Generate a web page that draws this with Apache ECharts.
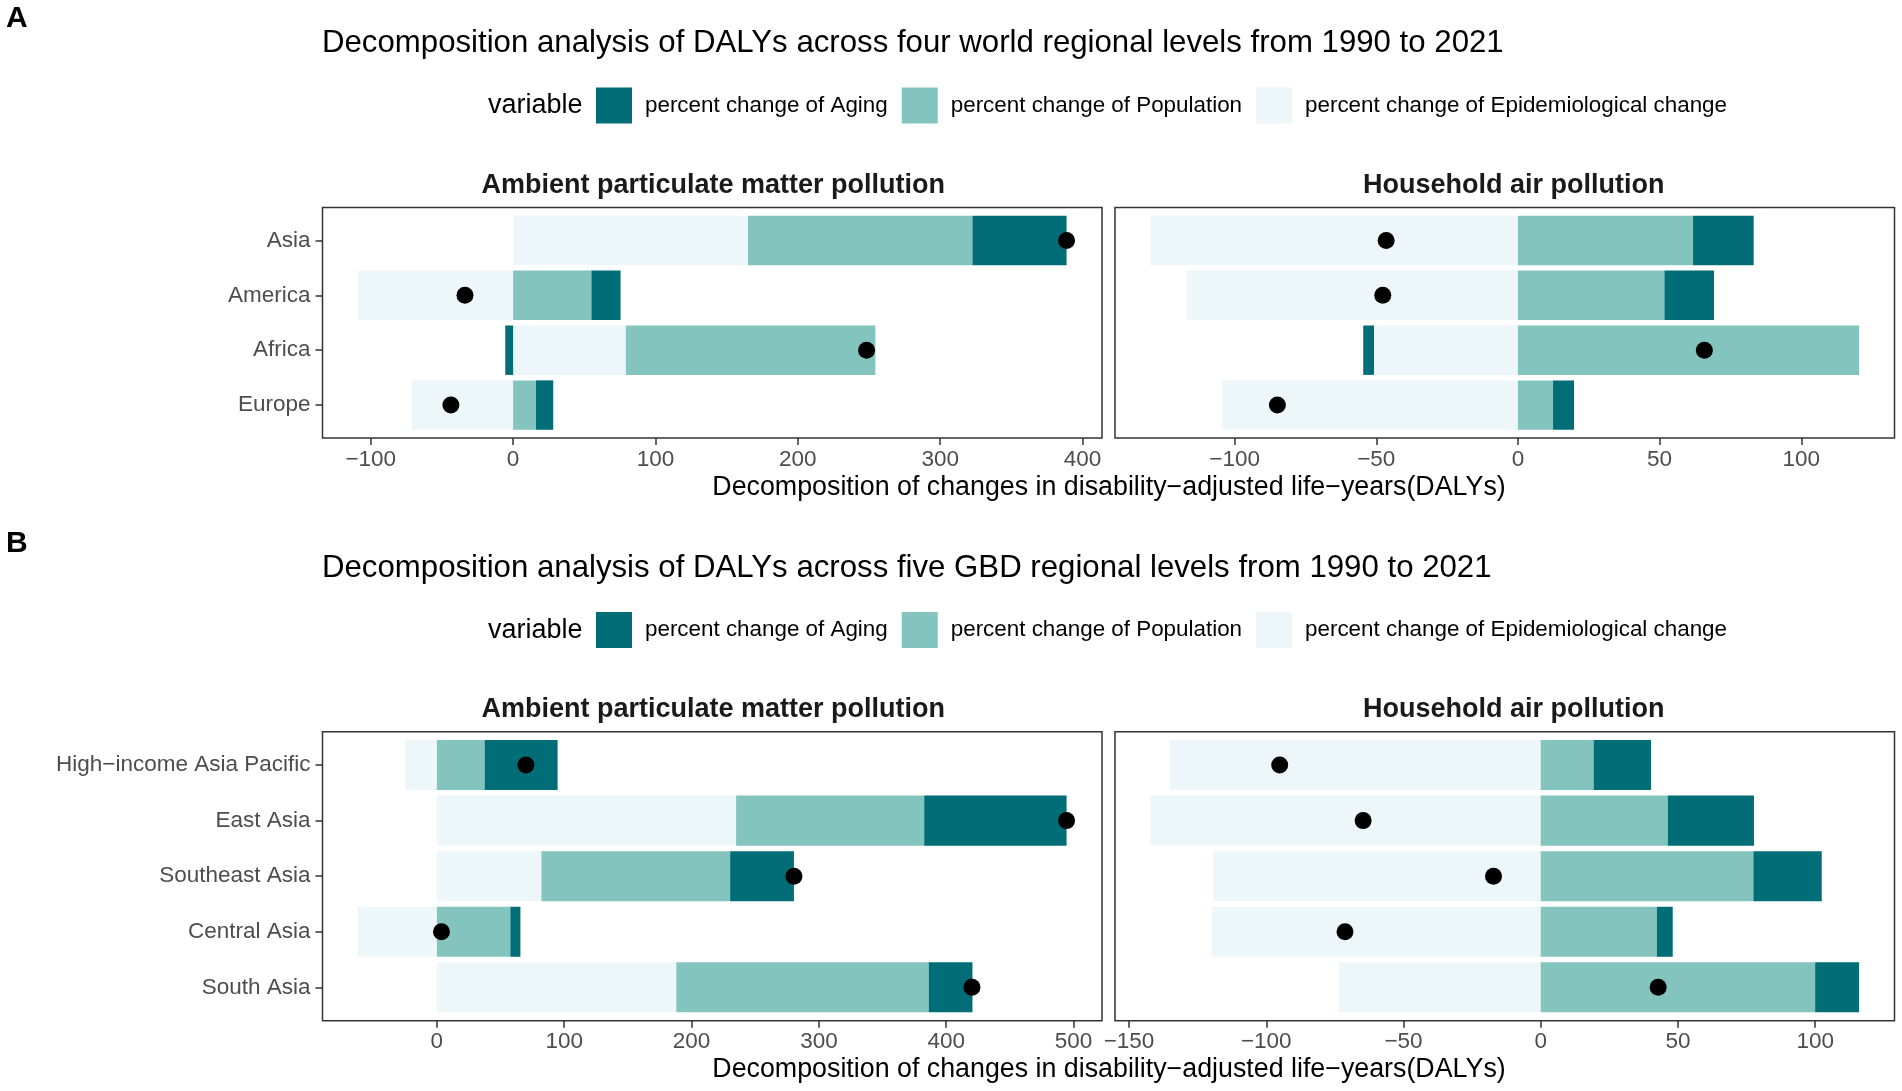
<!DOCTYPE html>
<html>
<head>
    <meta charset="UTF-8">
    <title>Decomposition analysis of DALYs</title>
    <script src="https://cdn.jsdelivr.net/npm/echarts@6/dist/echarts.min.js"></script>
    <style type="text/css">
        html, body {
            margin: 0;
            padding: 0;
            background: #fff;
        }
        #chart {
            width: 1902px;
            height: 1091px;
        }
    </style>
</head>
<body>
<div id="chart"></div>
<script>
    // legend order (Aging first), stacking order is Epi -> Population -> Aging
    const seriesNames = ['percent change of Aging', 'percent change of Population', 'percent change of Epidemiological change'];

    const worldRegions = ['Asia', 'America', 'Africa', 'Europe'];
    const gbdRegions = ['High\u2212income Asia Pacific', 'East Asia', 'Southeast Asia', 'Central Asia', 'South Asia'];

    // A - ambient particulate matter pollution
    const worldAmbientEpi = [165, -109, 79.2, -71.2];
    const worldAmbientPop = [157.7, 55, 175.3, 16.1];
    const worldAmbientAging = [66.1, 20.5, -5.5, 12.1];
    const worldAmbientTotal = [388.8, -33.8, 248.3, -43.7];
    // A - household air pollution
    const worldHouseholdEpi = [-129.7, -116.9, -50.8, -104.3];
    const worldHouseholdPop = [61.8, 51.7, 120.4, 12.4];
    const worldHouseholdAging = [21.4, 17.5, -3.8, 7.4];
    const worldHouseholdTotal = [-46.5, -47.7, 65.8, -84.9];
    // B - ambient particulate matter pollution
    const gbdAmbientEpi = [-24.9, 235, 82.1, -62, 188];
    const gbdAmbientPop = [37.5, 147.7, 148.2, 57.7, 198.3];
    const gbdAmbientAging = [57.3, 111.8, 50.1, 7.9, 34.3];
    const gbdAmbientTotal = [69.9, 494.5, 280.4, 3.6, 420.2];
    // B - household air pollution
    const gbdHouseholdEpi = [-135.1, -142.2, -119.3, -119.7, -73.5];
    const gbdHouseholdPop = [19.3, 46.3, 77.5, 42.3, 100];
    const gbdHouseholdAging = [20.9, 31.4, 24.9, 5.8, 16];
    const gbdHouseholdTotal = [-95.1, -64.7, -17.2, -71.3, 42.8];

    // tick labels
    const worldAmbientTicks = [-100, 0, 100, 200, 300, 400];
    const worldHouseholdTicks = [-100, -50, 0, 50, 100];
    const gbdAmbientTicks = [0, 100, 200, 300, 400, 500];
    const gbdHouseholdTicks = [-150, -100, -50, 0, 50, 100];

    const FONT = "'Liberation Sans', Arial, Helvetica, sans-serif";
    const COL_AGING = '#006D77', COL_POP = '#83C5BE', COL_EPI = '#EDF6F9';
    const PANEL_W = 779.5;
    const PANEL_X = [322.5, 1115];

    let panels = [
        {cats: worldRegions, epi: worldAmbientEpi, pop: worldAmbientPop, aging: worldAmbientAging, total: worldAmbientTotal, ticks: worldAmbientTicks, x: PANEL_X[0], top: 207.5, h: 230.5, ylab: true},
        {cats: worldRegions, epi: worldHouseholdEpi, pop: worldHouseholdPop, aging: worldHouseholdAging, total: worldHouseholdTotal, ticks: worldHouseholdTicks, x: PANEL_X[1], top: 207.5, h: 230.5, ylab: false},
        {cats: gbdRegions, epi: gbdAmbientEpi, pop: gbdAmbientPop, aging: gbdAmbientAging, total: gbdAmbientTotal, ticks: gbdAmbientTicks, x: PANEL_X[0], top: 731.7, h: 289, ylab: true},
        {cats: gbdRegions, epi: gbdHouseholdEpi, pop: gbdHouseholdPop, aging: gbdHouseholdAging, total: gbdHouseholdTotal, ticks: gbdHouseholdTicks, x: PANEL_X[1], top: 731.7, h: 289, ylab: false}
    ];

    // ggplot-like 5% expansion around stacked extent
    function axisRange(p) {
        let lo = 0, hi = 0;
        for (let i = 0; i < p.epi.length; i++) {
            let pos = 0, neg = 0;
            [p.epi[i], p.pop[i], p.aging[i]].forEach(v => { if (v > 0) pos += v; else neg += v; });
            lo = Math.min(lo, neg, p.total[i]);
            hi = Math.max(hi, pos, p.total[i]);
        }
        let pad = (hi - lo) * 0.05;
        return [lo - pad, hi + pad];
    }

    function minusSign(v) {
        return String(v).replace('-', '\u2212');
    }

    let grid = [], xAxis = [], yAxis = [], series = [];
    panels.forEach((p, i) => {
        let unit = p.h / (p.cats.length + 0.2);
        let range = axisRange(p);
        grid.push({left: p.x, top: p.top + 0.1 * unit, width: PANEL_W, height: unit * p.cats.length, outerBoundsMode: 'none', containLabel: false});
        xAxis.push({
            type: 'value', gridIndex: i, min: range[0], max: range[1], offset: 0.1 * unit,
            splitLine: {show: false},
            axisLine: {show: false, onZero: false},
            axisTick: {show: true, customValues: p.ticks, length: 7, lineStyle: {color: '#333', width: 1.5}},
            axisLabel: {customValues: p.ticks, formatter: minusSign, fontSize: 22.5, color: '#4D4D4D', fontFamily: FONT, margin: 10}
        });
        yAxis.push({
            type: 'category', gridIndex: i, data: p.cats, inverse: true,
            axisLine: {show: false, onZero: false},
            axisTick: {show: p.ylab, alignWithLabel: true, length: 7, lineStyle: {color: '#333', width: 1.5}},
            axisLabel: {show: p.ylab, interval: 0, fontSize: 22.5, color: '#4D4D4D', fontFamily: FONT, margin: 12},
            splitLine: {show: false}
        });
        [[seriesNames[2], p.epi, COL_EPI], [seriesNames[1], p.pop, COL_POP], [seriesNames[0], p.aging, COL_AGING]].forEach(s => {
            series.push({
                type: 'bar', name: s[0], data: s[1], xAxisIndex: i, yAxisIndex: i,
                stack: 'panel' + i, stackStrategy: 'samesign', barWidth: '90%',
                itemStyle: {color: s[2], opacity: 1}, emphasis: {disabled: true}
            });
        });
        series.push({
            type: 'scatter', name: 'total', xAxisIndex: i, yAxisIndex: i,
            data: p.total.map((v, k) => [v, k]),
            symbol: 'circle', symbolSize: 17,
            itemStyle: {color: '#000', opacity: 1}, emphasis: {disabled: true}, z: 5
        });
    });

    // panel frames (theme_bw border)
    panels.forEach((p, i) => {
        grid.push({left: p.x, top: p.top, width: PANEL_W, height: p.h, show: true, borderColor: '#333', borderWidth: 1.5, backgroundColor: 'transparent', outerBoundsMode: 'none', z: 3});
        xAxis.push({type: 'value', gridIndex: 4 + i, show: false});
        yAxis.push({type: 'value', gridIndex: 4 + i, show: false});
    });

    function txt(text, x, y, size, opts) {
        opts = opts || {};
        return {
            type: 'text', silent: true,
            style: {
                text: text, x: x, y: y,
                font: (opts.bold ? 'bold ' : '') + size + 'px ' + FONT,
                fill: opts.color || '#000',
                textAlign: opts.align || 'left', align: opts.align || 'left',
                textVerticalAlign: 'middle', verticalAlign: 'middle'
            }
        };
    }

    let graphics = [];
    [[0, 'A', 'Decomposition analysis of DALYs across four world regional levels from 1990 to 2021'],
     [1, 'B', 'Decomposition analysis of DALYs across five GBD regional levels from 1990 to 2021']].forEach(b => {
        let dy = b[0] * 524.5;
        graphics.push(txt(b[1], 6, 19 + dy, 30, {bold: true}));
        graphics.push(txt(b[2], 322, 43.5 + dy, 31.2));
        graphics.push(txt('variable', 488, 106 + dy, 27));
        graphics.push(txt('Ambient particulate matter pollution', PANEL_X[0] + PANEL_W / 2 + 1, 185.5 + dy, 27, {bold: true, color: '#1A1A1A', align: 'center'}));
        graphics.push(txt('Household air pollution', PANEL_X[1] + PANEL_W / 2 + 9, 185.5 + dy, 27, {bold: true, color: '#1A1A1A', align: 'center'}));
    });
    graphics.push(txt('Decomposition of changes in disability\u2212adjusted life\u2212years(DALYs)', 1109, 488, 26.8, {align: 'center'}));
    graphics.push(txt('Decomposition of changes in disability\u2212adjusted life\u2212years(DALYs)', 1109, 1070, 26.8, {align: 'center'}));

    let legend = [87.5, 612].map(t => ({
        data: seriesNames,
        left: 596, top: t, padding: 0,
        orient: 'horizontal', icon: 'rect',
        itemWidth: 36, itemHeight: 36, itemGap: 14,
        selectedMode: false,
        textStyle: {fontSize: 22.4, color: '#000', fontFamily: FONT, padding: [0, 0, 0, 8]}
    }));

    let myChart = echarts.init(document.getElementById('chart'));
    myChart.setOption({
        animation: false,
        backgroundColor: '#fff',
        textStyle: {fontFamily: FONT},
        legend: legend,
        grid: grid,
        xAxis: xAxis,
        yAxis: yAxis,
        series: series,
        graphic: graphics
    });
</script>
</body>
</html>
